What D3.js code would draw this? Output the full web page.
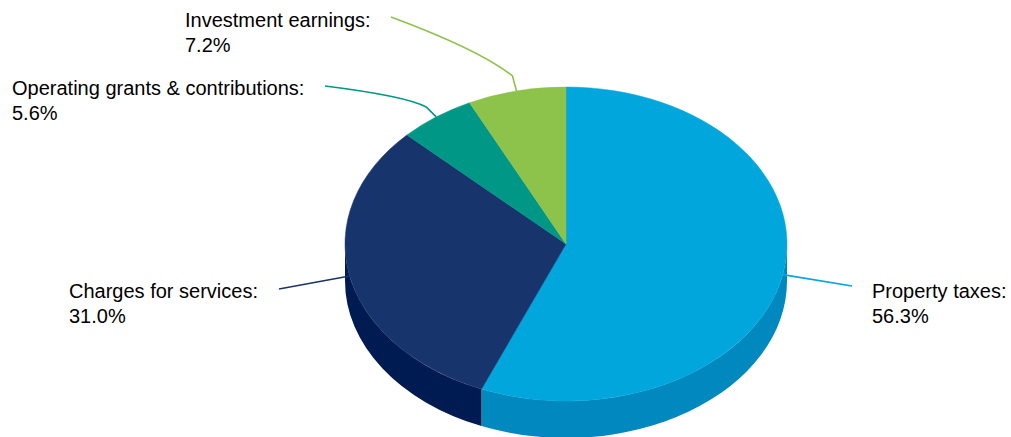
<!DOCTYPE html>
<html lang="en">
<head>
  <meta charset="UTF-8">
  <title>Revenue sources 3D pie</title>
  <script src="https://d3js.org/d3.v7.min.js"></script>
  <style>
    body { margin: 0; background: #fff; font-family: "Liberation Sans", Arial, sans-serif; }
    .label { font-size: 20px; fill: #000; }
  </style>
</head>
<body>
  <svg width="1011" height="437"></svg>
  <script>
    // data
    const categories = ["Property taxes", "Charges for services", "Operating grants & contributions", "Investment earnings"];
    const values = [56.3, 31.0, 5.6, 7.2];
    const topColors = ["#00a6dc", "#17346c", "#009786", "#8dc24b"];
    const sideColors = ["#0088bf", "#001b51", "#007466", "#6e9e37"];

    const svg = d3.select("svg");
    const cx = 566, cy = 244, rx = 221, ry = 157, depth = 37;

    // label layout: text position + leader line end + elbow
    const labelPos = [
      { x: 872, y: 298, end: [852, 286], elbow: null },
      { x: 69,  y: 298, end: [279, 289], elbow: null },
      { x: 12,  y: 95,  end: [325, 86],  elbow: [-10, -10], ctrl: [405, 96] },
      { x: 185, y: 27,  end: [391, 17],  elbow: [-4, -15],  ctrl: [480, 50] }
    ];

    const pie = d3.pie().sort(null).value(d => d)(values);

    const pt = (a, dy = 0) => [cx + rx * Math.sin(a), cy - ry * Math.cos(a) + dy];

    // sides (front half only)
    const sideG = svg.append("g");
    pie.forEach((d, i) => {
      const s0 = Math.max(d.startAngle, Math.PI / 2);
      const s1 = Math.min(d.endAngle, 3 * Math.PI / 2);
      if (s1 <= s0) return;
      const p0 = pt(s0), p1 = pt(s1), q0 = pt(s0, depth), q1 = pt(s1, depth);
      sideG.append("path")
        .attr("d", `M${p0}A${rx},${ry} 0 0 1 ${p1}L${q1}A${rx},${ry} 0 0 0 ${q0}Z`)
        .attr("fill", sideColors[i]);
    });

    // top face
    const topG = svg.append("g");
    pie.forEach((d, i) => {
      const p0 = pt(d.startAngle), p1 = pt(d.endAngle);
      const large = d.endAngle - d.startAngle > Math.PI ? 1 : 0;
      topG.append("path")
        .attr("d", `M${cx},${cy}L${p0}A${rx},${ry} 0 ${large} 1 ${p1}Z`)
        .attr("fill", topColors[i])
        .attr("stroke", topColors[i])
        .attr("stroke-width", 0.5);
    });

    // leader lines + labels
    const lg = svg.append("g");
    pie.forEach((d, i) => {
      const mid = (d.startAngle + d.endAngle) / 2;
      const a = pt(mid);
      const L = labelPos[i];
      let path;
      if (L.elbow) {
        const e = [a[0] + L.elbow[0], a[1] + L.elbow[1]];
        path = `M${a}L${e}Q${L.ctrl} ${L.end}`;
      } else {
        path = `M${a}L${L.end}`;
      }
      lg.append("path").attr("d", path)
        .attr("fill", "none")
        .attr("stroke", topColors[i])
        .attr("stroke-width", 1.6);

      const t = lg.append("text").attr("class", "label").attr("x", L.x).attr("y", L.y);
      t.append("tspan").attr("x", L.x).text(categories[i] + ":");
      t.append("tspan").attr("x", L.x).attr("dy", 25).text(values[i].toFixed(1) + "%");
    });
  </script>
</body>
</html>
